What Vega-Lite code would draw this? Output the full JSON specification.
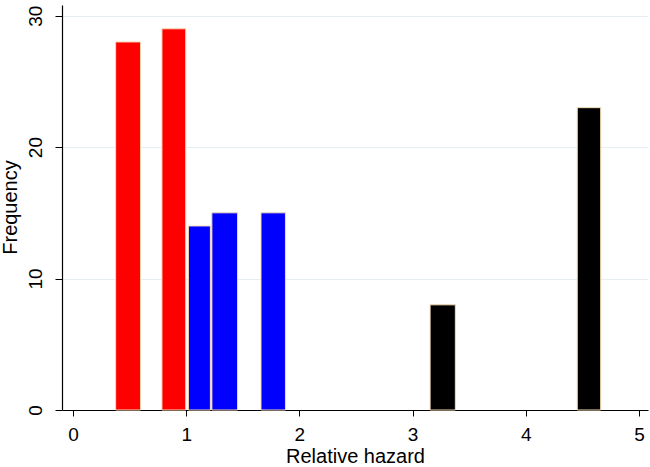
{
  "$schema": "https://vega.github.io/schema/vega-lite/v6.json",
  "autosize": "none",
  "width": 586,
  "height": 405,
  "padding": {"left": 62, "top": 5, "right": 2, "bottom": 57},
  "background": "white",
  "config": {
    "view": {"stroke": null},
    "font": "Liberation Sans"
  },
  "data": {
    "values": [
      {"start": 0.377, "end": 0.597, "frequency": 28, "group": "low"},
      {"start": 0.786, "end": 0.996, "frequency": 29, "group": "low"},
      {"start": 1.020, "end": 1.214, "frequency": 14, "group": "mid"},
      {"start": 1.227, "end": 1.454, "frequency": 15, "group": "mid"},
      {"start": 1.661, "end": 1.877, "frequency": 15, "group": "mid"},
      {"start": 3.155, "end": 3.378, "frequency": 8, "group": "high"},
      {"start": 4.455, "end": 4.662, "frequency": 23, "group": "high"}
    ]
  },
  "mark": {"type": "bar", "stroke": "#f3dcb4", "strokeWidth": 1},
  "encoding": {
    "x": {
      "field": "start",
      "type": "quantitative",
      "scale": {"domain": [-0.097, 5.08], "nice": false, "zero": false},
      "axis": {
        "title": "Relative hazard",
        "values": [0, 1, 2, 3, 4, 5],
        "grid": false,
        "domainColor": "#000000",
        "domainWidth": 1.2,
        "tickColor": "#000000",
        "tickSize": 6,
        "labelFontSize": 19,
        "labelColor": "#000000",
        "labelPadding": 9,
        "labelFont": "Liberation Sans",
        "titleFontSize": 20,
        "titleFont": "Liberation Sans",
        "titleFontWeight": "normal",
        "titleColor": "#000000",
        "titlePadding": 2
      }
    },
    "x2": {"field": "end"},
    "y": {
      "field": "frequency",
      "type": "quantitative",
      "scale": {"domain": [0, 30.81], "nice": false},
      "axis": {
        "title": "Frequency",
        "values": [0, 10, 20, 30],
        "gridColor": "#e6eef2",
        "gridWidth": 1,
        "domainColor": "#000000",
        "domainWidth": 1.2,
        "tickColor": "#000000",
        "tickSize": 7,
        "labelAngle": 270,
        "labelAlign": "center",
        "labelBaseline": "alphabetic",
        "labelFontSize": 19,
        "labelColor": "#000000",
        "labelPadding": 14,
        "labelFont": "Liberation Sans",
        "titleFontSize": 20,
        "titleFont": "Liberation Sans",
        "titleFontWeight": "normal",
        "titleColor": "#000000",
        "titleAngle": 270,
        "titleAlign": "center",
        "titleBaseline": "alphabetic",
        "titleX": -46,
        "titleY": 202
      }
    },
    "y2": {"datum": 0},
    "color": {
      "field": "group",
      "type": "nominal",
      "scale": {"domain": ["low", "mid", "high"], "range": ["#ff0000", "#0000ff", "#000000"]},
      "legend": null
    }
  }
}
